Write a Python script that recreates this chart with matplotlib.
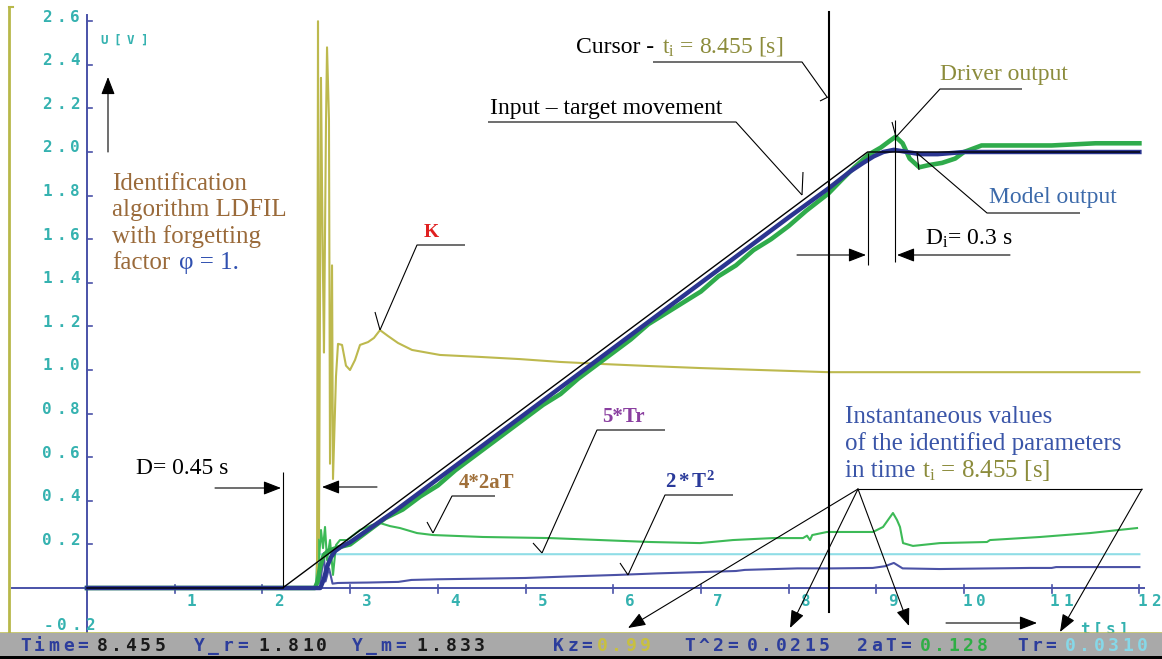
import matplotlib.pyplot as plt
from matplotlib.patches import Rectangle, FancyArrowPatch
from matplotlib.transforms import Affine2D, offset_copy

plt.rcParams['mathtext.fontset'] = 'custom'
plt.rcParams['mathtext.rm'] = 'Liberation Serif'
plt.rcParams['mathtext.it'] = 'Liberation Serif:italic'
plt.rcParams['mathtext.bf'] = 'Liberation Serif:bold'

# ---- recorded run: time [s], voltage [V] ----
input_t = [0.0, 2.23, 8.9, 12.0]
input_u = [0.0, 0.0, 2.0, 2.0]

model_t = [0.0, 2.66, 2.70, 2.74, 2.78, 2.83, 2.90, 3.0, 3.5, 4.0, 4.5, 5.0, 5.5, 6.0, 6.5,
           7.0, 7.5, 8.0, 8.455, 8.7, 8.85, 8.97, 9.08, 9.2, 9.35, 9.5, 9.7, 10.0, 12.0]
model_u = [0.0, 0.0, 0.04, 0.10, 0.14, 0.17, 0.19, 0.21, 0.35, 0.50, 0.65, 0.80, 0.95, 1.10, 1.25,
           1.40, 1.55, 1.70, 1.833, 1.91, 1.95, 1.98, 2.0, 2.01, 2.0, 1.99, 1.99, 2.0, 2.0]

driver_t = [0.0, 2.60, 2.63, 2.66, 2.70, 2.75, 2.82, 2.90, 3.0, 3.2, 3.4, 3.6, 3.8, 4.0, 4.2,
            4.4, 4.6, 4.8, 5.0, 5.2, 5.4, 5.6, 5.8, 6.0, 6.2, 6.4, 6.6, 6.8, 7.0, 7.2, 7.4,
            7.6, 7.8, 8.0, 8.2, 8.455, 8.6, 8.75, 8.92, 9.05, 9.15, 9.22, 9.3, 9.38, 9.49,
            9.6, 9.75, 9.9, 10.0, 10.2, 10.5, 11.0, 11.5, 12.0]
driver_u = [0.0, 0.0, 0.03, 0.10, 0.15, 0.17, 0.18, 0.19, 0.20, 0.26, 0.32, 0.36, 0.42, 0.47, 0.54,
            0.60, 0.66, 0.72, 0.78, 0.84, 0.89, 0.96, 1.02, 1.08, 1.14, 1.21, 1.26, 1.31, 1.36, 1.43, 1.48,
            1.55, 1.60, 1.66, 1.73, 1.81, 1.87, 1.93, 1.99, 2.02, 2.05, 2.07, 2.04, 1.97, 1.93,
            1.94, 1.95, 1.97, 2.00, 2.03, 2.03, 2.03, 2.04, 2.04]

# identified parameters
k_t = [0.0, 2.623, 2.634, 2.645, 2.668, 2.680, 2.691, 2.702, 2.725, 2.737, 2.759, 2.771, 2.794,
       2.805, 2.839, 2.862, 2.908, 2.953, 2.999, 3.056, 3.113, 3.204, 3.272, 3.341, 3.432, 3.546,
       3.706, 4.025, 4.481, 4.937, 5.393, 5.849, 6.420, 6.990, 7.674, 8.455, 12.0]
k_u = [0.0, 0.0, 2.60, 0.23, 2.34, 1.84, 1.43, 1.08, 2.13, 2.48, 2.15, 0.57, 1.48,
       0.50, 0.97, 1.12, 1.115, 1.02, 1.0, 1.046, 1.115, 1.128, 1.147, 1.183, 1.156, 1.124,
       1.092, 1.069, 1.06, 1.05, 1.037, 1.028, 1.018, 1.009, 1.0, 0.99, 0.99]

at_t = [0.0, 2.611, 2.634, 2.645, 2.668, 2.691, 2.714, 2.737, 2.771, 2.805, 2.839, 2.885, 2.965,
        3.113, 3.25, 3.341, 3.455, 3.569, 3.763, 3.945, 4.515, 5.279, 5.849, 6.420, 6.990, 7.366,
        7.822, 8.164, 8.21, 8.244, 8.27, 8.438, 8.962, 9.077, 9.19, 9.236, 9.27, 9.305, 9.418,
        9.726, 10.262, 10.297, 10.867, 11.437, 11.973]
at_u = [0.0, 0.0, 0.234, 0.128, 0.266, 0.183, 0.28, 0.128, 0.22, 0.06, 0.197, 0.22, 0.22,
        0.266, 0.289, 0.298, 0.284, 0.275, 0.252, 0.243, 0.234, 0.229, 0.22, 0.211, 0.206, 0.22,
        0.229, 0.229, 0.24, 0.22, 0.243, 0.257, 0.257, 0.28, 0.344, 0.312, 0.28, 0.206, 0.193,
        0.206, 0.211, 0.22, 0.234, 0.252, 0.275]

tr_t = [0.0, 2.62, 2.64, 12.0]
tr_u = [0.0, 0.0, 0.155, 0.155]

t2_t = [0.0, 2.62, 2.645, 2.66, 2.70, 2.72, 2.76, 2.80, 2.86, 3.0, 3.2, 3.55, 3.7, 4.0, 4.5,
        5.0, 5.5, 6.05, 6.5, 7.0, 7.4, 7.5, 8.1, 8.5, 8.96, 9.1, 9.2, 9.3, 9.72, 10.75, 11.0,
        11.05, 12.0]
t2_u = [0.0, 0.0, 0.11, 0.02, 0.16, 0.03, 0.09, 0.02, 0.023, 0.024, 0.025, 0.028, 0.037, 0.04, 0.043,
        0.046, 0.053, 0.06, 0.067, 0.073, 0.078, 0.083, 0.09, 0.09, 0.092, 0.10, 0.115, 0.09, 0.087,
        0.092, 0.092, 0.096, 0.096]

cursor_t = 8.455

x_ticks = list(range(1, 13))
y_ticks = [0.2, 0.4, 0.6, 0.8, 1.0, 1.2, 1.4, 1.6, 1.8, 2.0, 2.2, 2.4, 2.6]

status = [("Time=", "#2c3d9c"), (f"{cursor_t:.3f}", "#1a1a1a"),
          ("Y_r=", "#2c3d9c"), ("1.810", "#1a1a1a"),
          ("Y_m=", "#2c3d9c"), ("1.833", "#1a1a1a"),
          ("Kz=", "#2c3d9c"), ("0.99", "#c8c040"),
          ("T^2=", "#2c3d9c"), ("0.0215", "#2c3d9c"),
          ("2aT=", "#2c3d9c"), ("0.128", "#2fae45"),
          ("Tr=", "#2c3d9c"), ("0.0310", "#86d8e8")]
status_x = [18, 95, 192, 257, 350, 415, 551, 595, 682, 745, 855, 918, 1015, 1063]

TEAL = '#35b2b0'
AXIS_BLUE = '#4a52a8'
FRAME = '#b8b84a'
OLIVE = '#8c8c3c'

W, H = 1162, 659
fig = plt.figure(figsize=(W / 100, H / 100), dpi=100)
ax = fig.add_axes([0, 0, 1, 1])
ax.set_xlim(-87 / 87.7, (W - 87) / 87.7)
ax.set_ylim((588 - H) / 218, 588 / 218)
ax.axis('off')
# screen-pixel coordinates (origin top left) for the annotation layer
px = Affine2D().scale(1 / W, -1 / H).translate(0, 1) + fig.transFigure


def dos(x, y, s, color, size=11.5, dx=0, dy=0, ha='left', trans=None, z=6, pitch=14):
    """Blocky fixed-pitch text like the DOS screen font."""
    base = trans if trans is not None else ax.transData
    left = dx - pitch * len(s) if ha == 'right' else dx
    for i, ch in enumerate(s):
        tr = offset_copy(base, fig=fig, x=left + pitch * (i + 0.5), y=dy, units='dots')
        ax.text(x, y, ch, transform=tr, ha='center', va='center', color=color,
                fontsize=size, family='DejaVu Sans Mono', fontweight='bold', zorder=z)


def label(x, y, s, color='black', size=17, weight='normal'):
    ax.text(x, y, s, transform=px, color=color, fontsize=size, family='Liberation Serif',
            fontweight=weight, va='baseline', ha='left', zorder=8)


def seg(*pts, lw=0.8):
    xs, ys = zip(*pts)
    ax.plot(xs, ys, transform=px, color='black', lw=lw, zorder=7, solid_capstyle='butt')


def arrow(p0, p1):
    ax.add_patch(FancyArrowPatch(p0, p1, transform=px, color='black', lw=0.8, zorder=7,
                                 arrowstyle='-|>,head_length=0.9,head_width=0.35',
                                 mutation_scale=12, shrinkA=0, shrinkB=0))


# screen frame
ax.plot([9, 9], [7, 633], transform=px, color=FRAME, lw=2, zorder=1)
ax.plot([9, 13], [7, 7], transform=px, color=FRAME, lw=1.5, zorder=1)
ax.plot([0, W], [632.5, 632.5], transform=px, color=FRAME, lw=1.8, zorder=9)

# axes with ticks
ax.plot([0, 0], [-0.2, 2.63], color=AXIS_BLUE, lw=1.4, zorder=2)
ax.plot([-0.86, 12.05], [0, 0], color=AXIS_BLUE, lw=1.4, zorder=2)
for t in x_ticks:
    ax.plot([t, t], [-0.024, 0.016], color=AXIS_BLUE, lw=1.2, zorder=2)
    dos(t, 0, str(t), TEAL, ha='right', dx=24, dy=-14)
for v in y_ticks:
    ax.plot([0, 0.06], [v, v], color=AXIS_BLUE, lw=1.2, zorder=2)
    dos(0, v, f"{v:.1f}", TEAL, ha='right', dx=-5, dy=4)
dos(0, -0.2, "-0.2", TEAL, ha='right', dx=10, dy=6.5)
dos(97, 40, "U[V]", TEAL, size=9, trans=px, pitch=13.5)
dos(1078, 629, "t[s]", TEAL, trans=px, pitch=13, z=8)

# signals
ax.plot(tr_t, tr_u, color='#8fdde6', lw=1.5, zorder=3)
ax.plot(t2_t, t2_u, color='#4b52a6', lw=1.5, zorder=3)
ax.plot(at_t, at_u, color='#3dba57', lw=1.5, zorder=3)
ax.plot(k_t, k_u, color='#bdb94e', lw=1.5, zorder=3)
ax.plot(driver_t, driver_u, color='#2fab4b', lw=3.3, zorder=4)
ax.plot(model_t, model_u, color='#2b3691', lw=3.2, zorder=5)
ax.plot(input_t, input_u, color='black', lw=1.0, zorder=5.5)
ax.plot([cursor_t, cursor_t], [-0.11, 2.64], color='black', lw=1.5, zorder=6)

# annotations
arrow((108, 152), (108, 77))
for i, s in enumerate(["Identification", "algorithm LDFIL", "with forgetting", "factor"]):
    label(112, 190 + 26.3 * i, s, color='#9a6a3a', size=18)
label(179, 269, "φ = 1.", color='#3050b0', size=18)

label(576, 53, "Cursor -", size=17)
label(662, 53, r"t$_\mathrm{i}$ = 8.455 [s]", color=OLIVE, size=17)
seg((653, 62), (802, 62), (827, 97))
seg((820, 101), (828, 97))

label(490, 114, "Input – target movement", size=17)
seg((488, 122), (736, 122), (802, 195))
seg((803, 172), (802, 195))

label(940, 80, "Driver output", color=OLIVE, size=17)
seg((1022, 89), (940, 89), (896, 137))
seg((892, 122), (896, 137))

label(989, 203, "Model output", color='#3c6aaa', size=17)
seg((1080, 213), (987, 213), (917, 153))
seg((917, 153), (919, 170))

seg((868, 153), (868, 265))
seg((895, 120), (895, 262))
arrow((797, 255), (866, 255))
arrow((1010, 255), (897, 255))
label(925, 245, r"D$_\mathrm{i}$= 0.3 s", size=17)

label(424, 237, "K", color='#e02020', size=14, weight='bold')
seg((465, 245), (417, 245), (380, 330))
seg((375, 312), (380, 330))

seg((283, 472), (283, 588))
arrow((215, 488), (281, 488))
arrow((377, 487), (322, 487))
label(136, 474, "D= 0.45 s", size=17)

label(459, 488, "4*2aT", color='#a0703a', size=15, weight='bold')
seg((495, 496), (452, 496), (433, 533))
seg((427, 522), (433, 533))

label(602, 422, "5*Tr", color='#8a3fa0', size=15, weight='bold')
seg((665, 430), (597, 430), (542, 553))
seg((533, 543), (542, 553))

label(665, 488, r"$\mathbf{2*T^2}$", color='#2a3a9a', size=15)
seg((733, 495), (665, 495), (628, 575))
seg((620, 563), (628, 575))

for i, s in enumerate(["Instantaneous values", "of the identified parameters", "in time"]):
    label(845, 423 + 27 * i, s, color='#3a55a8', size=18)
label(922, 477, r"t$_\mathrm{i}$ = 8.455 [s]", color=OLIVE, size=18)
seg((858, 489), (1142, 489))
arrow((858, 489), (628, 628))
arrow((858, 489), (790, 628))
arrow((858, 489), (909, 626))
arrow((1142, 489), (1060, 632))
arrow((946, 623), (1037, 623))

# status line
ax.add_patch(Rectangle((0, 633), W, 23, transform=px, facecolor='#a9a9a9', edgecolor='none', zorder=9))
ax.add_patch(Rectangle((0, 656), W, 3, transform=px, facecolor='black', edgecolor='none', zorder=9))
for (s, c), x in zip(status, status_x):
    dos(x, 646, s, c, size=13, trans=px, pitch=14.4, z=10)

fig.savefig('out.png', dpi=100)
